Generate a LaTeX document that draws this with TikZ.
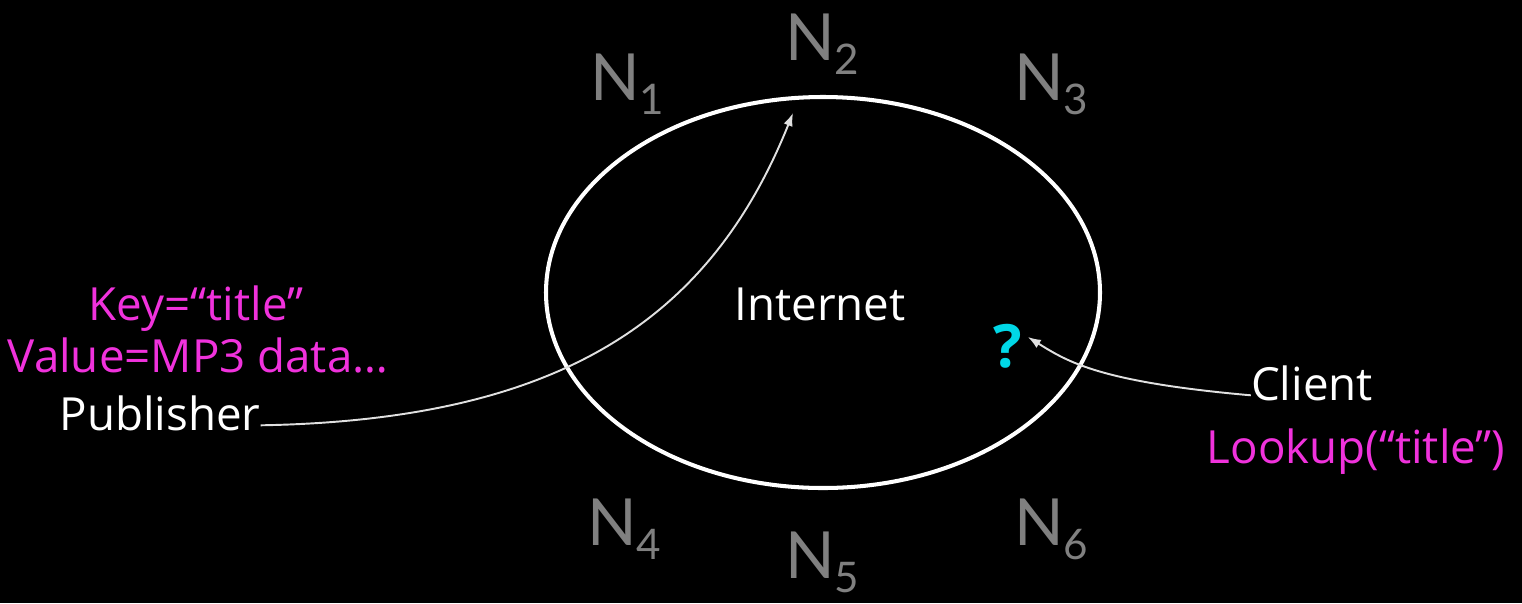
\documentclass[tikz,border=0pt]{standalone}
\usepackage{fontspec}
\setmainfont{Open Sans}
\newfontfamily\peerfont{Lato}
\usetikzlibrary{arrows.meta}
\definecolor{keypink}{RGB}{240,50,220}
\definecolor{askcyan}{RGB}{0,215,230}
\definecolor{peergray}{RGB}{128,128,128}
\newcommand{\peer}[1]{N\kern-.5pt\raisebox{-8pt}{\fontsize{24}{24}\selectfont #1}}

\begin{document}
\begin{tikzpicture}[x=.02cm,y=-.02cm,
  txt/.style={font=\fontsize{26}{30}\selectfont,inner sep=0pt,anchor=base},
  peerlbl/.style={font=\peerfont\fontsize{37}{40}\selectfont,text=peergray,inner sep=0pt,anchor=base west},
  link/.style={draw=white!88!black,line width=1.1pt,-{Latex[length=2.6mm,width=1.9mm]}}]
\useasboundingbox (0,0) rectangle (1522,603);
\fill[black] (0,0) rectangle (1522,603);
% the network cloud
\draw[white,line width=2.3pt] (823,292.5) ellipse [x radius=277,y radius=195.5];
\node[txt,text=white] (net) at (820,320) {Internet};
% peers round the ring
\node[peerlbl] (n1) at (590,100) {\peer{1}};
\node[peerlbl] (n2) at (785,60) {\peer{2}};
\node[peerlbl] (n3) at (1014,100) {\peer{3}};
\node[peerlbl] (n4) at (587,545) {\peer{4}};
\node[peerlbl] (n5) at (785,578) {\peer{5}};
\node[peerlbl] (n6) at (1014,545) {\peer{6}};
% publisher side
\node[txt,text=keypink] (key) at (196,320) {Key=“title”};
\node[txt,text=keypink] (val) at (198,372) {Value=MP3 data…};
\node[txt,text=white] (pub) at (160,430) {Publisher};
% client side
\node[txt,text=askcyan,font=\bfseries\fontsize{34}{36}\selectfont,inner sep=3pt] (ask) at (1008,367) {?};
\node[txt,text=white] (client) at (1312,400) {Client};
\node[txt,text=keypink] (lookup) at (1356,463) {Lookup(“title”)};
\coordinate (slot) at (793,113);
\draw[link] (pub.mid east) .. controls (560,420) and (710,320) .. (slot);
\draw[link] (client.mid west) .. controls (1100,382) and (1068,362) .. ([yshift=5pt]ask.east);
\end{tikzpicture}
\end{document}
